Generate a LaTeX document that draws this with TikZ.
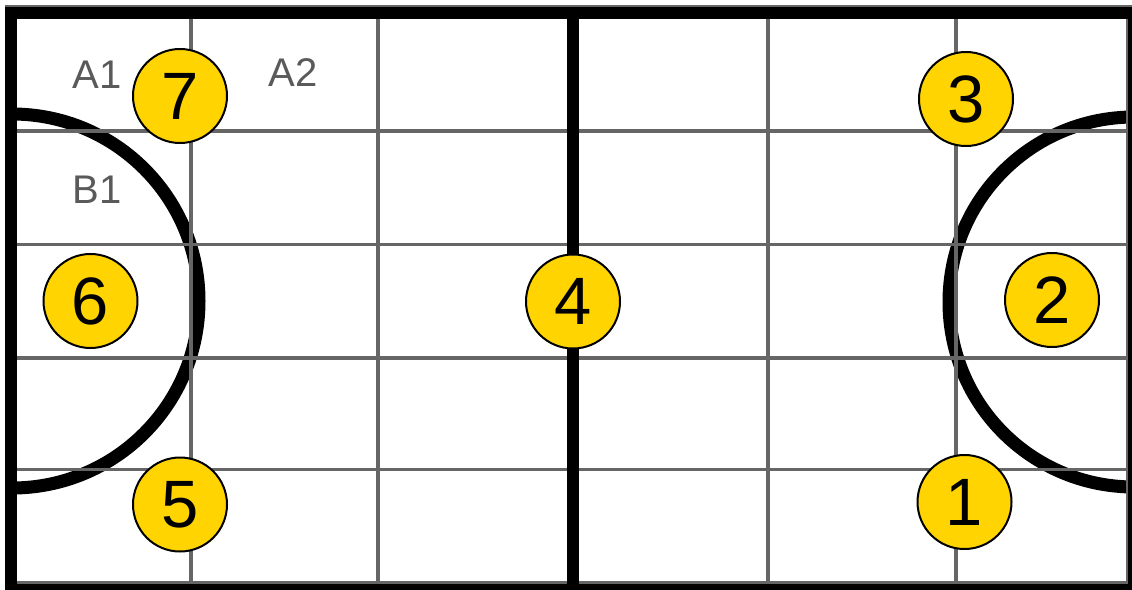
\documentclass[tikz,border=0pt]{standalone}
\usepackage{fontspec}
\setmainfont{Liberation Sans}
\definecolor{gridgray}{HTML}{666666}
\definecolor{ballyellow}{HTML}{FFD400}
\definecolor{labgray}{HTML}{5A5A5A}
\tikzset{
  gridline/.style={draw=gridgray, line width=3.5pt},
  heavyline/.style={draw=black, line width=12pt},
  arcline/.style={draw=black, line width=13pt},
  ball/.style={circle, fill=ballyellow, draw=black, line width=2pt, inner sep=0pt,
    minimum size=94pt, font=\fontsize{67}{67}\selectfont},
  celllabel/.style={text=labgray, inner sep=0pt, font=\fontsize{40}{40}\selectfont}
}
\begin{document}
\begin{tikzpicture}[x=1pt,y=-1pt]
\useasboundingbox (0,0) rectangle (1132,589);
\fill[white] (0,0) rectangle (1132,589);
\begin{scope}
  \clip (11,0) rectangle (1132,589);
  \draw[arcline] (12,301) circle[radius=187];
  \draw[arcline] (1134,302) circle[radius=185];
\end{scope}
\begin{scope}
  \clip (0,0) rectangle (1132,589);
  \foreach \x in {191,378,573,768,956,1128}
    \draw[gridline] (\x,7) -- (\x,589);
  \foreach \y in {7,131,244.5,358,469.5,583}
    \draw[gridline] (5,\y) -- (1132,\y);
  \draw[heavyline] (11,13) rectangle (1134,590);
  \draw[heavyline] (573,13) -- (573,590);
\end{scope}
\node[ball] (c1) at (964.5,502) {1};
\node[ball] (c2) at (1052,300) {2};
\node[ball] (c3) at (966,99) {3};
\node[ball] (c4) at (573,301.5) {4};
\node[ball] (c5) at (180,504.5) {5};
\node[ball] (c6) at (90.5,301) {6};
\node[ball] (c7) at (180,96) {7};
\node[celllabel] (a1) at (97,75) {A1};
\node[celllabel] (a2) at (293,73) {A2};
\node[celllabel] (b1) at (97,190) {B1};
\end{tikzpicture}
\end{document}
